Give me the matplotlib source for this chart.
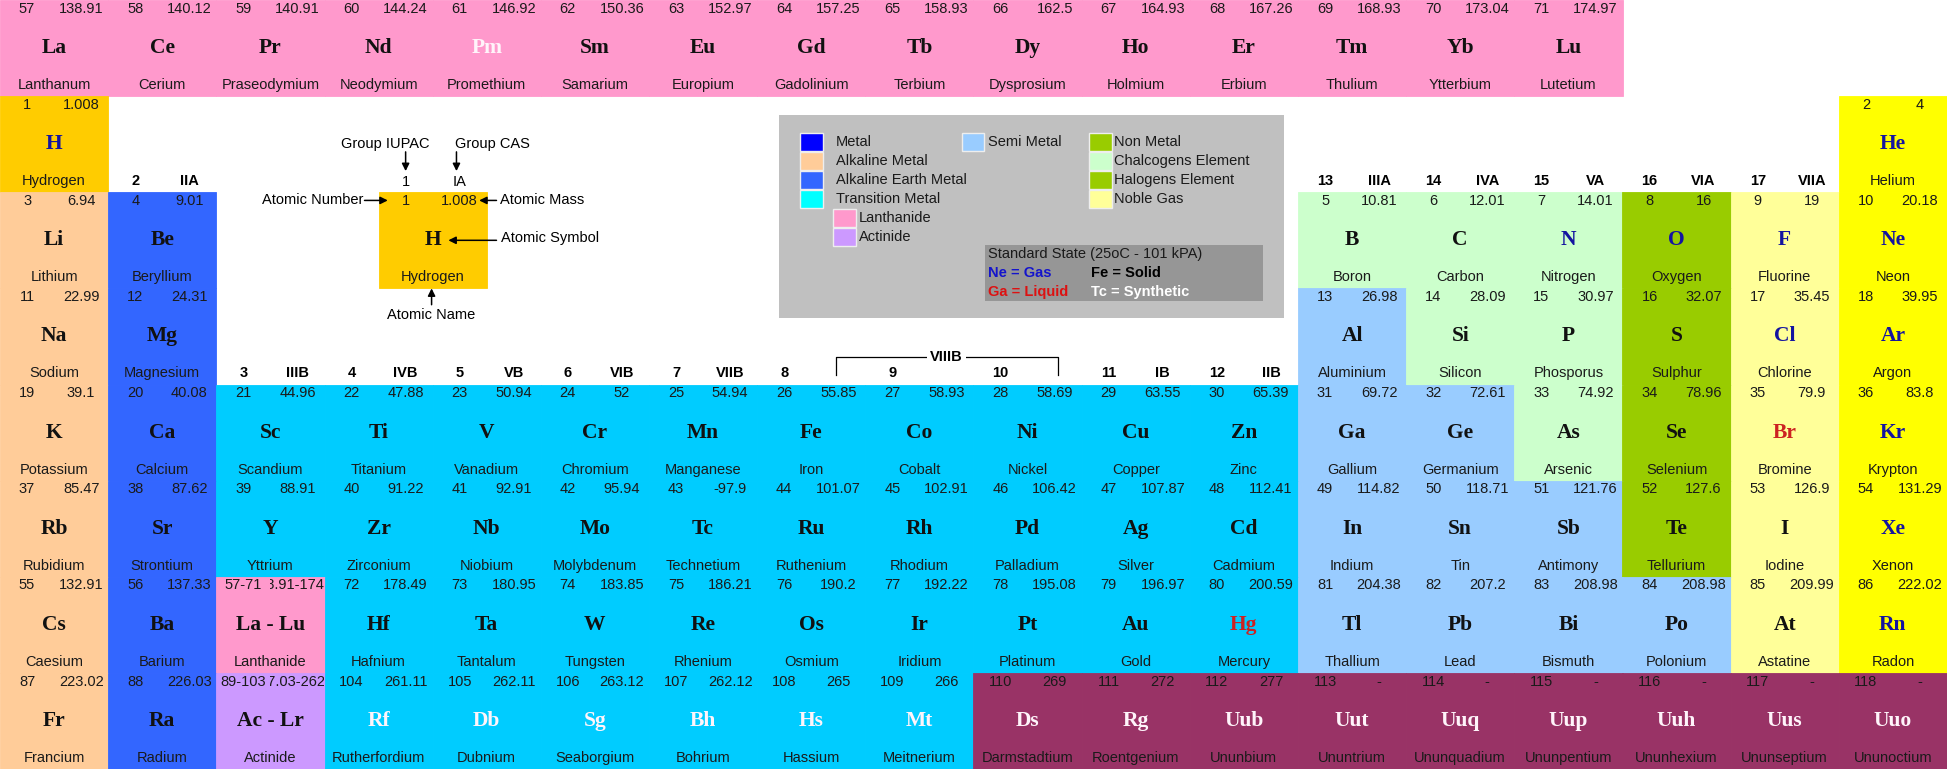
import matplotlib
matplotlib.use("Agg")
import matplotlib.pyplot as plt
from matplotlib import font_manager
from matplotlib.patches import Rectangle

# lanthanide strip along the top
LAN_SYMBOLS = ["La", "Ce", "Pr", "Nd", "Pm", "Sm", "Eu", "Gd", "Tb", "Dy", "Ho", "Er", "Tm", "Yb", "Lu"]
LAN_NUMBERS = ["57", "58", "59", "60", "61", "62", "63", "64", "65", "66", "67", "68", "69", "70", "71"]
LAN_MASSES = ["138.91", "140.12", "140.91", "144.24", "146.92", "150.36", "152.97", "157.25",
              "158.93", "162.5", "164.93", "167.26", "168.93", "173.04", "174.97"]
LAN_NAMES = ["Lanthanum", "Cerium", "Praseodymium", "Neodymium", "Promethium", "Samarium", "Europium",
             "Gadolinium", "Terbium", "Dysprosium", "Holmium", "Erbium", "Thulium", "Ytterbium", "Lutetium"]
LAN_STATES = ["s", "s", "s", "s", "x", "s", "s", "s", "s", "s", "s", "s", "s", "s", "s"]

# main table, period by period
SYMBOLS = [
    "H", "He",
    "Li", "Be", "B", "C", "N", "O", "F", "Ne",
    "Na", "Mg", "Al", "Si", "P", "S", "Cl", "Ar",
    "K", "Ca", "Sc", "Ti", "V", "Cr", "Mn", "Fe", "Co", "Ni", "Cu", "Zn", "Ga", "Ge", "As", "Se", "Br", "Kr",
    "Rb", "Sr", "Y", "Zr", "Nb", "Mo", "Tc", "Ru", "Rh", "Pd", "Ag", "Cd", "In", "Sn", "Sb", "Te", "I", "Xe",
    "Cs", "Ba", "La - Lu", "Hf", "Ta", "W", "Re", "Os", "Ir", "Pt", "Au", "Hg", "Tl", "Pb", "Bi", "Po", "At", "Rn",
    "Fr", "Ra", "Ac - Lr", "Rf", "Db", "Sg", "Bh", "Hs", "Mt", "Ds", "Rg", "Uub", "Uut", "Uuq", "Uup", "Uuh", "Uus", "Uuo",
]
NUMBERS = [
    "1", "2",
    "3", "4", "5", "6", "7", "8", "9", "10",
    "11", "12", "13", "14", "15", "16", "17", "18",
    "19", "20", "21", "22", "23", "24", "25", "26", "27", "28", "29", "30", "31", "32", "33", "34", "35", "36",
    "37", "38", "39", "40", "41", "42", "43", "44", "45", "46", "47", "48", "49", "50", "51", "52", "53", "54",
    "55", "56", "57-71", "72", "73", "74", "75", "76", "77", "78", "79", "80", "81", "82", "83", "84", "85", "86",
    "87", "88", "89-103", "104", "105", "106", "107", "108", "109", "110", "111", "112", "113", "114", "115", "116", "117", "118",
]
MASSES = [
    "1.008", "4",
    "6.94", "9.01", "10.81", "12.01", "14.01", "16", "19", "20.18",
    "22.99", "24.31", "26.98", "28.09", "30.97", "32.07", "35.45", "39.95",
    "39.1", "40.08", "44.96", "47.88", "50.94", "52", "54.94", "55.85", "58.93", "58.69", "63.55", "65.39",
    "69.72", "72.61", "74.92", "78.96", "79.9", "83.8",
    "85.47", "87.62", "88.91", "91.22", "92.91", "95.94", "-97.9", "101.07", "102.91", "106.42", "107.87", "112.41",
    "114.82", "118.71", "121.76", "127.6", "126.9", "131.29",
    "132.91", "137.33", "138.91-174.97", "178.49", "180.95", "183.85", "186.21", "190.2", "192.22", "195.08",
    "196.97", "200.59", "204.38", "207.2", "208.98", "208.98", "209.99", "222.02",
    "223.02", "226.03", "227.03-262.11", "261.11", "262.11", "263.12", "262.12", "265", "266", "269", "272", "277",
    "-", "-", "-", "-", "-", "-",
]
NAMES = [
    "Hydrogen", "Helium",
    "Lithium", "Beryllium", "Boron", "Carbon", "Nitrogen", "Oxygen", "Fluorine", "Neon",
    "Sodium", "Magnesium", "Aluminium", "Silicon", "Phosporus", "Sulphur", "Chlorine", "Argon",
    "Potassium", "Calcium", "Scandium", "Titanium", "Vanadium", "Chromium", "Manganese", "Iron", "Cobalt",
    "Nickel", "Copper", "Zinc", "Gallium", "Germanium", "Arsenic", "Selenium", "Bromine", "Krypton",
    "Rubidium", "Strontium", "Yttrium", "Zirconium", "Niobium", "Molybdenum", "Technetium", "Ruthenium",
    "Rhodium", "Palladium", "Silver", "Cadmium", "Indium", "Tin", "Antimony", "Tellurium", "Iodine", "Xenon",
    "Caesium", "Barium", "Lanthanide", "Hafnium", "Tantalum", "Tungsten", "Rhenium", "Osmium", "Iridium",
    "Platinum", "Gold", "Mercury", "Thallium", "Lead", "Bismuth", "Polonium", "Astatine", "Radon",
    "Francium", "Radium", "Actinide", "Rutherfordium", "Dubnium", "Seaborgium", "Bohrium", "Hassium",
    "Meitnerium", "Darmstadtium", "Roentgenium", "Ununbium", "Ununtrium", "Ununquadium", "Ununpentium",
    "Ununhexium", "Ununseptium", "Ununoctium",
]
GROUPS = (
    [1, 18]
    + [1, 2, 13, 14, 15, 16, 17, 18]
    + [1, 2, 13, 14, 15, 16, 17, 18]
    + list(range(1, 19)) * 4
)
PERIODS = [1] * 2 + [2] * 8 + [3] * 8 + [4] * 18 + [5] * 18 + [6] * 18 + [7] * 18
KINDS = (
    ["h", "noble"]
    + ["alk", "ae", "chal", "chal", "chal", "non", "hal", "noble"]
    + ["alk", "ae", "semi", "chal", "chal", "non", "hal", "noble"]
    + ["alk", "ae"] + ["tr"] * 10 + ["semi", "semi", "chal", "non", "hal", "noble"]
    + ["alk", "ae"] + ["tr"] * 10 + ["semi", "semi", "semi", "non", "hal", "noble"]
    + ["alk", "ae", "lan"] + ["tr"] * 9 + ["semi", "semi", "semi", "semi", "hal", "noble"]
    + ["alk", "ae", "act"] + ["tr"] * 6 + ["unk"] * 9
)
STATES = (
    ["g", "g"]
    + ["s", "s", "s", "s", "g", "g", "g", "g"]
    + ["s", "s", "s", "s", "s", "s", "g", "g"]
    + ["s"] * 16 + ["l", "g"]
    + ["s"] * 17 + ["g"]
    + ["s"] * 11 + ["l"] + ["s"] * 5 + ["g"]
    + ["s", "s", "s"] + ["x"] * 15
)

GROUP_IUPAC = ["2", "3", "4", "5", "6", "7", "8", "9", "10", "11", "12", "13", "14", "15", "16", "17"]
GROUP_CAS = ["IIA", "IIIB", "IVB", "VB", "VIB", "VIIB", "", "", "", "IB", "IIB", "IIIA", "IVA", "VA", "VIA", "VIIA"]

LEGEND_LEFT = [("Metal", "#0000FF"), ("Alkaline Metal", "#FFCC99"),
               ("Alkaline Earth Metal", "#3366FF"), ("Transition Metal", "#00FFFF")]
LEGEND_SUB = [("Lanthanide", "#FF99CC"), ("Actinide", "#CC99FF")]
LEGEND_MID = [("Semi Metal", "#99CCFF")]
LEGEND_RIGHT = [("Non Metal", "#99CC00"), ("Chalcogens Element", "#CCFFCC"),
                ("Halogens Element", "#99CC00"), ("Noble Gas", "#FFFF99")]

FILL = {"h": "#FFCC00", "alk": "#FFCC99", "ae": "#3366FF", "tr": "#00CCFF", "lan": "#FF99CC",
        "act": "#CC99FF", "semi": "#99CCFF", "chal": "#CCFFCC", "non": "#99CC00", "hal": "#FFFF99",
        "noble": "#FFFF00", "unk": "#993366"}
SYM_COLOR = {"s": "#111111", "g": "#1414A0", "l": "#CC2222", "x": "#FFF4FA"}

installed = {f.name for f in font_manager.fontManager.ttflist}
SANS = "Liberation Sans Narrow" if "Liberation Sans Narrow" in installed else "Liberation Sans"
SERIF = "Liberation Serif"
SMALL = 10.5
BIG = 15.5
TXT = "#1a1a1a"

fig = plt.figure(figsize=(19.47, 7.69), dpi=100)
ax = fig.add_axes([0, 0, 1, 1])
ax.set_xlim(0, 18)
ax.set_ylim(8, 0)
ax.axis("off")


def half_clip(t, x0, y):
    # excel style: each value lives in half of the cell and is cut off at its edges
    t.set_clip_path(Rectangle((x0, y), 0.5, 1, transform=ax.transData))
    t.set_clip_on(True)


def draw_cell(x, y, num, mass, sym, name, fill, sym_color):
    ax.add_patch(Rectangle((x, y), 1, 1, facecolor=fill, edgecolor=fill, lw=0.6))
    t = ax.text(x + 0.25, y + 0.09, num, ha="center", va="center", family=SANS, size=SMALL, color=TXT)
    half_clip(t, x, y)
    t = ax.text(x + 0.75, y + 0.09, mass, ha="center", va="center", family=SANS, size=SMALL, color=TXT)
    half_clip(t, x + 0.5, y)
    ax.text(x + 0.5, y + 0.5, sym, ha="center", va="center", family=SERIF, weight="bold",
            size=BIG, color=sym_color)
    ax.text(x + 0.5, y + 0.885, name, ha="center", va="center", family=SANS, size=SMALL, color=TXT)


for i, sym in enumerate(LAN_SYMBOLS):
    draw_cell(i, 0, LAN_NUMBERS[i], LAN_MASSES[i], sym, LAN_NAMES[i], FILL["lan"], SYM_COLOR[LAN_STATES[i]])

for i, sym in enumerate(SYMBOLS):
    draw_cell(GROUPS[i] - 1, PERIODS[i], NUMBERS[i], MASSES[i], sym, NAMES[i],
              FILL[KINDS[i]], SYM_COLOR[STATES[i]])

# group headers sit just above the first element of each group
for iupac, cas in zip(GROUP_IUPAC, GROUP_CAS):
    g = int(iupac)
    top = min(p for p, gg in zip(PERIODS, GROUPS) if gg == g)
    y = top - 1 + 0.88
    ax.text(g - 1 + 0.25, y, iupac, ha="center", va="center", family=SANS, weight="bold", size=SMALL)
    if cas:
        ax.text(g - 1 + 0.75, y, cas, ha="center", va="center", family=SANS, weight="bold", size=SMALL)

# VIIIB bracket over groups 8-10
ax.plot([7.73, 7.73, 9.78, 9.78], [3.90, 3.71, 3.71, 3.90], color="black", lw=0.9)
ax.text(8.75, 3.71, "VIIIB", ha="center", va="center", family=SANS, weight="bold", size=SMALL,
        bbox=dict(facecolor="white", edgecolor="none", pad=2))

# key cell explaining the layout
kx, ky = 3.5, 2
draw_cell(kx, ky, "1", "1.008", "H", "Hydrogen", FILL["h"], SYM_COLOR["s"])
ax.text(kx + 0.25, 1.89, "1", ha="center", va="center", family=SANS, size=SMALL)
ax.text(kx + 0.75, 1.89, "IA", ha="center", va="center", family=SANS, size=SMALL)
arrow = dict(arrowstyle="-|>", color="black", lw=1.1, mutation_scale=11, shrinkA=0, shrinkB=0)
ax.text(kx + 0.06, 1.5, "Group IUPAC", ha="center", va="center", family=SANS, size=SMALL)
ax.annotate("", xy=(kx + 0.25, 1.78), xytext=(kx + 0.25, 1.58), arrowprops=arrow)
ax.text(kx + 0.71, 1.5, "Group CAS", ha="left", va="center", family=SANS, size=SMALL)
ax.annotate("", xy=(kx + 0.72, 1.78), xytext=(kx + 0.72, 1.58), arrowprops=arrow)
ax.text(kx - 0.14, ky + 0.085, "Atomic Number", ha="right", va="center", family=SANS, size=SMALL)
ax.annotate("", xy=(kx + 0.085, ky + 0.085), xytext=(kx - 0.13, ky + 0.085), arrowprops=arrow)
ax.text(kx + 1.12, ky + 0.085, "Atomic Mass", ha="left", va="center", family=SANS, size=SMALL)
ax.annotate("", xy=(kx + 0.93, ky + 0.085), xytext=(kx + 1.09, ky + 0.085), arrowprops=arrow)
ax.text(kx + 1.13, ky + 0.48, "Atomic Symbol", ha="left", va="center", family=SANS, size=SMALL)
ax.annotate("", xy=(kx + 0.645, ky + 0.5), xytext=(kx + 1.09, ky + 0.5), arrowprops=arrow)
ax.text(kx + 0.49, ky + 1.28, "Atomic Name", ha="center", va="center", family=SANS, size=SMALL)
ax.annotate("", xy=(kx + 0.49, ky + 1.0), xytext=(kx + 0.49, ky + 1.17), arrowprops=arrow)

# colour legend box
ax.add_patch(Rectangle((7.20, 1.196), 4.67, 2.112, facecolor="#C0C0C0", edgecolor="none"))
sw_w, sw_h = 0.21, 0.19


def legend_rows(entries, sx, tx, y0):
    for j, (label, col) in enumerate(entries):
        y = y0 + j * 0.198
        ax.add_patch(Rectangle((sx, y), sw_w, sw_h, facecolor=col, edgecolor="#EEEEEE", lw=1))
        ax.text(tx, y + sw_h / 2, label, ha="left", va="center", family=SANS, size=SMALL, color=TXT)


legend_rows(LEGEND_LEFT, 7.396, 7.73, 1.384)
legend_rows(LEGEND_SUB, 7.70, 7.94, 1.384 + 4 * 0.198)
legend_rows(LEGEND_MID, 8.89, 9.134, 1.384)
legend_rows(LEGEND_RIGHT, 10.07, 10.30, 1.384)

ax.add_patch(Rectangle((9.106, 2.549), 2.57, 0.582, facecolor="#969696", edgecolor="none"))
ax.text(9.134, 2.642, "Standard State (25oC - 101 kPA)", ha="left", va="center", family=SANS, size=SMALL,
        color=TXT)
ax.text(9.134, 2.84, "Ne = Gas", ha="left", va="center", family=SANS, weight="bold", size=SMALL,
        color="#1414CC")
ax.text(9.134, 3.038, "Ga = Liquid", ha="left", va="center", family=SANS, weight="bold", size=SMALL,
        color="#DD1111")
ax.text(10.086, 2.84, "Fe = Solid", ha="left", va="center", family=SANS, weight="bold", size=SMALL,
        color="black")
ax.text(10.086, 3.038, "Tc = Synthetic", ha="left", va="center", family=SANS, weight="bold", size=SMALL,
        color="white")

fig.savefig("out.png", dpi=100)
